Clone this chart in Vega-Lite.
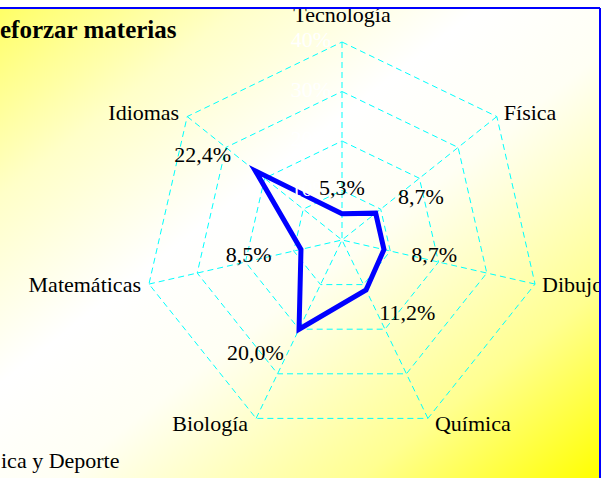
{
  "$schema": "https://vega.github.io/schema/vega-lite/v6.json",
  "width": 600,
  "height": 470,
  "autosize": {"type": "none"},
  "padding": {"left": 0, "top": 8, "right": 8, "bottom": 0},
  "background": "#ffffff",
  "config": {
    "view": {
      "stroke": null,
      "fill": {
        "gradient": "linear",
        "x1": 0, "y1": 0, "x2": 1, "y2": 1,
        "stops": [
          {"offset": 0, "color": "#ffff66"},
          {"offset": 0.2, "color": "#ffffc8"},
          {"offset": 0.4, "color": "#ffffff"},
          {"offset": 0.55, "color": "#fffff4"},
          {"offset": 0.8, "color": "#ffff90"},
          {"offset": 1, "color": "#ffff00"}
        ]
      }
    },
    "font": "Liberation Serif",
    "text": {"font": "Liberation Serif", "fontSize": 22, "fill": "#000000"}
  },
  "datasets": {
    "materias": [
      {"materia": "Tecnología", "orden": 0, "valor": 5.3},
      {"materia": "Física", "orden": 1, "valor": 8.7},
      {"materia": "Dibujo", "orden": 2, "valor": 8.7},
      {"materia": "Química", "orden": 3, "valor": 11.2},
      {"materia": "Biología", "orden": 4, "valor": 20.0},
      {"materia": "Matemáticas", "orden": 5, "valor": 8.5},
      {"materia": "Idiomas", "orden": 6, "valor": 22.4}
    ],
    "ejes": [
      {"orden": 0, "niveles": [10, 20, 30, 40]},
      {"orden": 1, "niveles": [10, 20, 30, 40]},
      {"orden": 2, "niveles": [10, 20, 30, 40]},
      {"orden": 3, "niveles": [10, 20, 30, 40]},
      {"orden": 4, "niveles": [10, 20, 30, 40]},
      {"orden": 5, "niveles": [10, 20, 30, 40]},
      {"orden": 6, "niveles": [10, 20, 30, 40]}
    ],
    "notas": [
      {"texto": "eforzar materias", "px": -69.09, "py": 40.81}
    ],
    "pie": [
      {"texto": "ica y Deporte", "px": -69.09, "py": -46.06}
    ],
    "bordes": [
      {"xa": -69.09, "xb": 52.12, "ya": 46.87, "yb": 46.87},
      {"xa": 52.12, "xb": 52.12, "ya": -48.08, "yb": 46.87}
    ]
  },
  "layer": [
    {
      "data": {"name": "ejes"},
      "transform": [
        {"flatten": ["niveles"], "as": ["nivel"]},
        {"calculate": "PI/2 - datum.orden*2*PI/7", "as": "ang"},
        {"calculate": "datum.nivel*cos(datum.ang)", "as": "x"},
        {"calculate": "datum.nivel*sin(datum.ang)", "as": "y"}
      ],
      "mark": {"type": "line", "interpolate": "linear-closed", "stroke": "#00ffff", "strokeWidth": 1, "strokeDash": [6, 4]},
      "encoding": {
        "x": {"field": "x", "type": "quantitative", "axis": null, "scale": {"domain": [-69.09, 52.12], "nice": false, "zero": false}},
        "y": {"field": "y", "type": "quantitative", "axis": null, "scale": {"domain": [-48.08, 46.87], "nice": false, "zero": false}},
        "detail": {"field": "nivel"},
        "order": {"field": "orden"}
      }
    },
    {
      "data": {"name": "ejes"},
      "transform": [
        {"calculate": "PI/2 - datum.orden*2*PI/7", "as": "ang"},
        {"calculate": "40*cos(datum.ang)", "as": "x"},
        {"calculate": "40*sin(datum.ang)", "as": "y"}
      ],
      "mark": {"type": "rule", "stroke": "#00ffff", "strokeWidth": 1, "strokeDash": [6, 4]},
      "encoding": {
        "x": {"field": "x", "type": "quantitative"},
        "y": {"field": "y", "type": "quantitative"},
        "x2": {"datum": 0},
        "y2": {"datum": 0}
      }
    },
    {
      "data": {"name": "materias"},
      "transform": [
        {"calculate": "PI/2 - datum.orden*2*PI/7", "as": "ang"},
        {"calculate": "datum.valor*cos(datum.ang)", "as": "x"},
        {"calculate": "datum.valor*sin(datum.ang)", "as": "y"}
      ],
      "mark": {"type": "line", "interpolate": "linear-closed", "stroke": "#0000ff", "strokeWidth": 5, "strokeJoin": "miter"},
      "encoding": {
        "x": {"field": "x", "type": "quantitative"},
        "y": {"field": "y", "type": "quantitative"},
        "order": {"field": "orden"}
      }
    },
    {
      "data": {"name": "ejes"},
      "transform": [
        {"filter": "datum.orden == 0"},
        {"flatten": ["niveles"], "as": ["nivel"]},
        {"calculate": "0", "as": "x"},
        {"calculate": "datum.nivel", "as": "y"},
        {"calculate": "datum.nivel + '%'", "as": "etiqueta"}
      ],
      "mark": {"type": "text", "font": "Liberation Serif", "fontSize": 22, "align": "right", "baseline": "middle", "dx": -11, "dy": -2, "fill": "#ffffff"},
      "encoding": {
        "x": {"field": "x", "type": "quantitative"},
        "y": {"field": "y", "type": "quantitative"},
        "text": {"field": "etiqueta"}
      }
    },
    {
      "data": {"name": "materias"},
      "transform": [
        {"calculate": "PI/2 - datum.orden*2*PI/7", "as": "ang"},
        {"calculate": "(datum.valor+5.25)*cos(datum.ang)", "as": "x"},
        {"calculate": "(datum.valor+5.25)*sin(datum.ang)", "as": "y"},
        {"calculate": "replace(format(datum.valor, '.1f'), '.', ',') + '%'", "as": "etiqueta"},
        {"filter": "datum.orden == 0"}
      ],
      "mark": {"type": "text", "font": "Liberation Serif", "fontSize": 22, "align": "center", "baseline": "middle"},
      "encoding": {
        "x": {"field": "x", "type": "quantitative"},
        "y": {"field": "y", "type": "quantitative"},
        "text": {"field": "etiqueta"}
      }
    },
    {
      "data": {"name": "materias"},
      "transform": [
        {"calculate": "PI/2 - datum.orden*2*PI/7", "as": "ang"},
        {"calculate": "(datum.valor+5.25)*cos(datum.ang)", "as": "x"},
        {"calculate": "(datum.valor+5.25)*sin(datum.ang)", "as": "y"},
        {"calculate": "replace(format(datum.valor, '.1f'), '.', ',') + '%'", "as": "etiqueta"},
        {"filter": "datum.orden >= 1 && datum.orden <= 3"}
      ],
      "mark": {"type": "text", "font": "Liberation Serif", "fontSize": 22, "align": "left", "baseline": "middle", "dx": 2},
      "encoding": {
        "x": {"field": "x", "type": "quantitative"},
        "y": {"field": "y", "type": "quantitative"},
        "text": {"field": "etiqueta"}
      }
    },
    {
      "data": {"name": "materias"},
      "transform": [
        {"calculate": "PI/2 - datum.orden*2*PI/7", "as": "ang"},
        {"calculate": "(datum.valor+5.25)*cos(datum.ang)", "as": "x"},
        {"calculate": "(datum.valor+5.25)*sin(datum.ang)", "as": "y"},
        {"calculate": "replace(format(datum.valor, '.1f'), '.', ',') + '%'", "as": "etiqueta"},
        {"filter": "datum.orden >= 4"}
      ],
      "mark": {"type": "text", "font": "Liberation Serif", "fontSize": 22, "align": "right", "baseline": "middle", "dx": -4},
      "encoding": {
        "x": {"field": "x", "type": "quantitative"},
        "y": {"field": "y", "type": "quantitative"},
        "text": {"field": "etiqueta"}
      }
    },
    {
      "data": {"name": "materias"},
      "transform": [
        {"calculate": "PI/2 - datum.orden*2*PI/7", "as": "ang"},
        {"calculate": "40*cos(datum.ang)", "as": "x"},
        {"calculate": "40*sin(datum.ang)", "as": "y"},
        {"filter": "datum.orden == 0"}
      ],
      "mark": {"type": "text", "font": "Liberation Serif", "fontSize": 22, "align": "center", "baseline": "middle", "dy": -27},
      "encoding": {
        "x": {"field": "x", "type": "quantitative"},
        "y": {"field": "y", "type": "quantitative"},
        "text": {"field": "materia"}
      }
    },
    {
      "data": {"name": "materias"},
      "transform": [
        {"calculate": "PI/2 - datum.orden*2*PI/7", "as": "ang"},
        {"calculate": "40*cos(datum.ang)", "as": "x"},
        {"calculate": "41.3*sin(datum.ang)", "as": "y"},
        {"filter": "datum.orden >= 1 && datum.orden <= 3"}
      ],
      "mark": {"type": "text", "font": "Liberation Serif", "fontSize": 22, "align": "left", "baseline": "middle", "dx": 7, "clip": true},
      "encoding": {
        "x": {"field": "x", "type": "quantitative"},
        "y": {"field": "y", "type": "quantitative"},
        "text": {"field": "materia"}
      }
    },
    {
      "data": {"name": "materias"},
      "transform": [
        {"calculate": "PI/2 - datum.orden*2*PI/7", "as": "ang"},
        {"calculate": "40*cos(datum.ang)", "as": "x"},
        {"calculate": "41.3*sin(datum.ang)", "as": "y"},
        {"filter": "datum.orden >= 4"}
      ],
      "mark": {"type": "text", "font": "Liberation Serif", "fontSize": 22, "align": "right", "baseline": "middle", "dx": -8},
      "encoding": {
        "x": {"field": "x", "type": "quantitative"},
        "y": {"field": "y", "type": "quantitative"},
        "text": {"field": "materia"}
      }
    },
    {
      "data": {"name": "notas"},
      "mark": {"type": "text", "font": "Liberation Serif", "fontSize": 25, "fontWeight": "bold", "align": "left", "baseline": "alphabetic"},
      "encoding": {
        "x": {"field": "px", "type": "quantitative"},
        "y": {"field": "py", "type": "quantitative"},
        "text": {"field": "texto"}
      }
    },
    {
      "data": {"name": "pie"},
      "mark": {"type": "text", "font": "Liberation Serif", "fontSize": 22, "align": "left", "baseline": "alphabetic", "dx": 1},
      "encoding": {
        "x": {"field": "px", "type": "quantitative"},
        "y": {"field": "py", "type": "quantitative"},
        "text": {"field": "texto"}
      }
    },
    {
      "data": {"name": "bordes"},
      "mark": {"type": "rule", "stroke": "#0000ff", "strokeWidth": 2},
      "encoding": {
        "x": {"field": "xa", "type": "quantitative"},
        "x2": {"field": "xb"},
        "y": {"field": "ya", "type": "quantitative"},
        "y2": {"field": "yb"}
      }
    }
  ]
}
